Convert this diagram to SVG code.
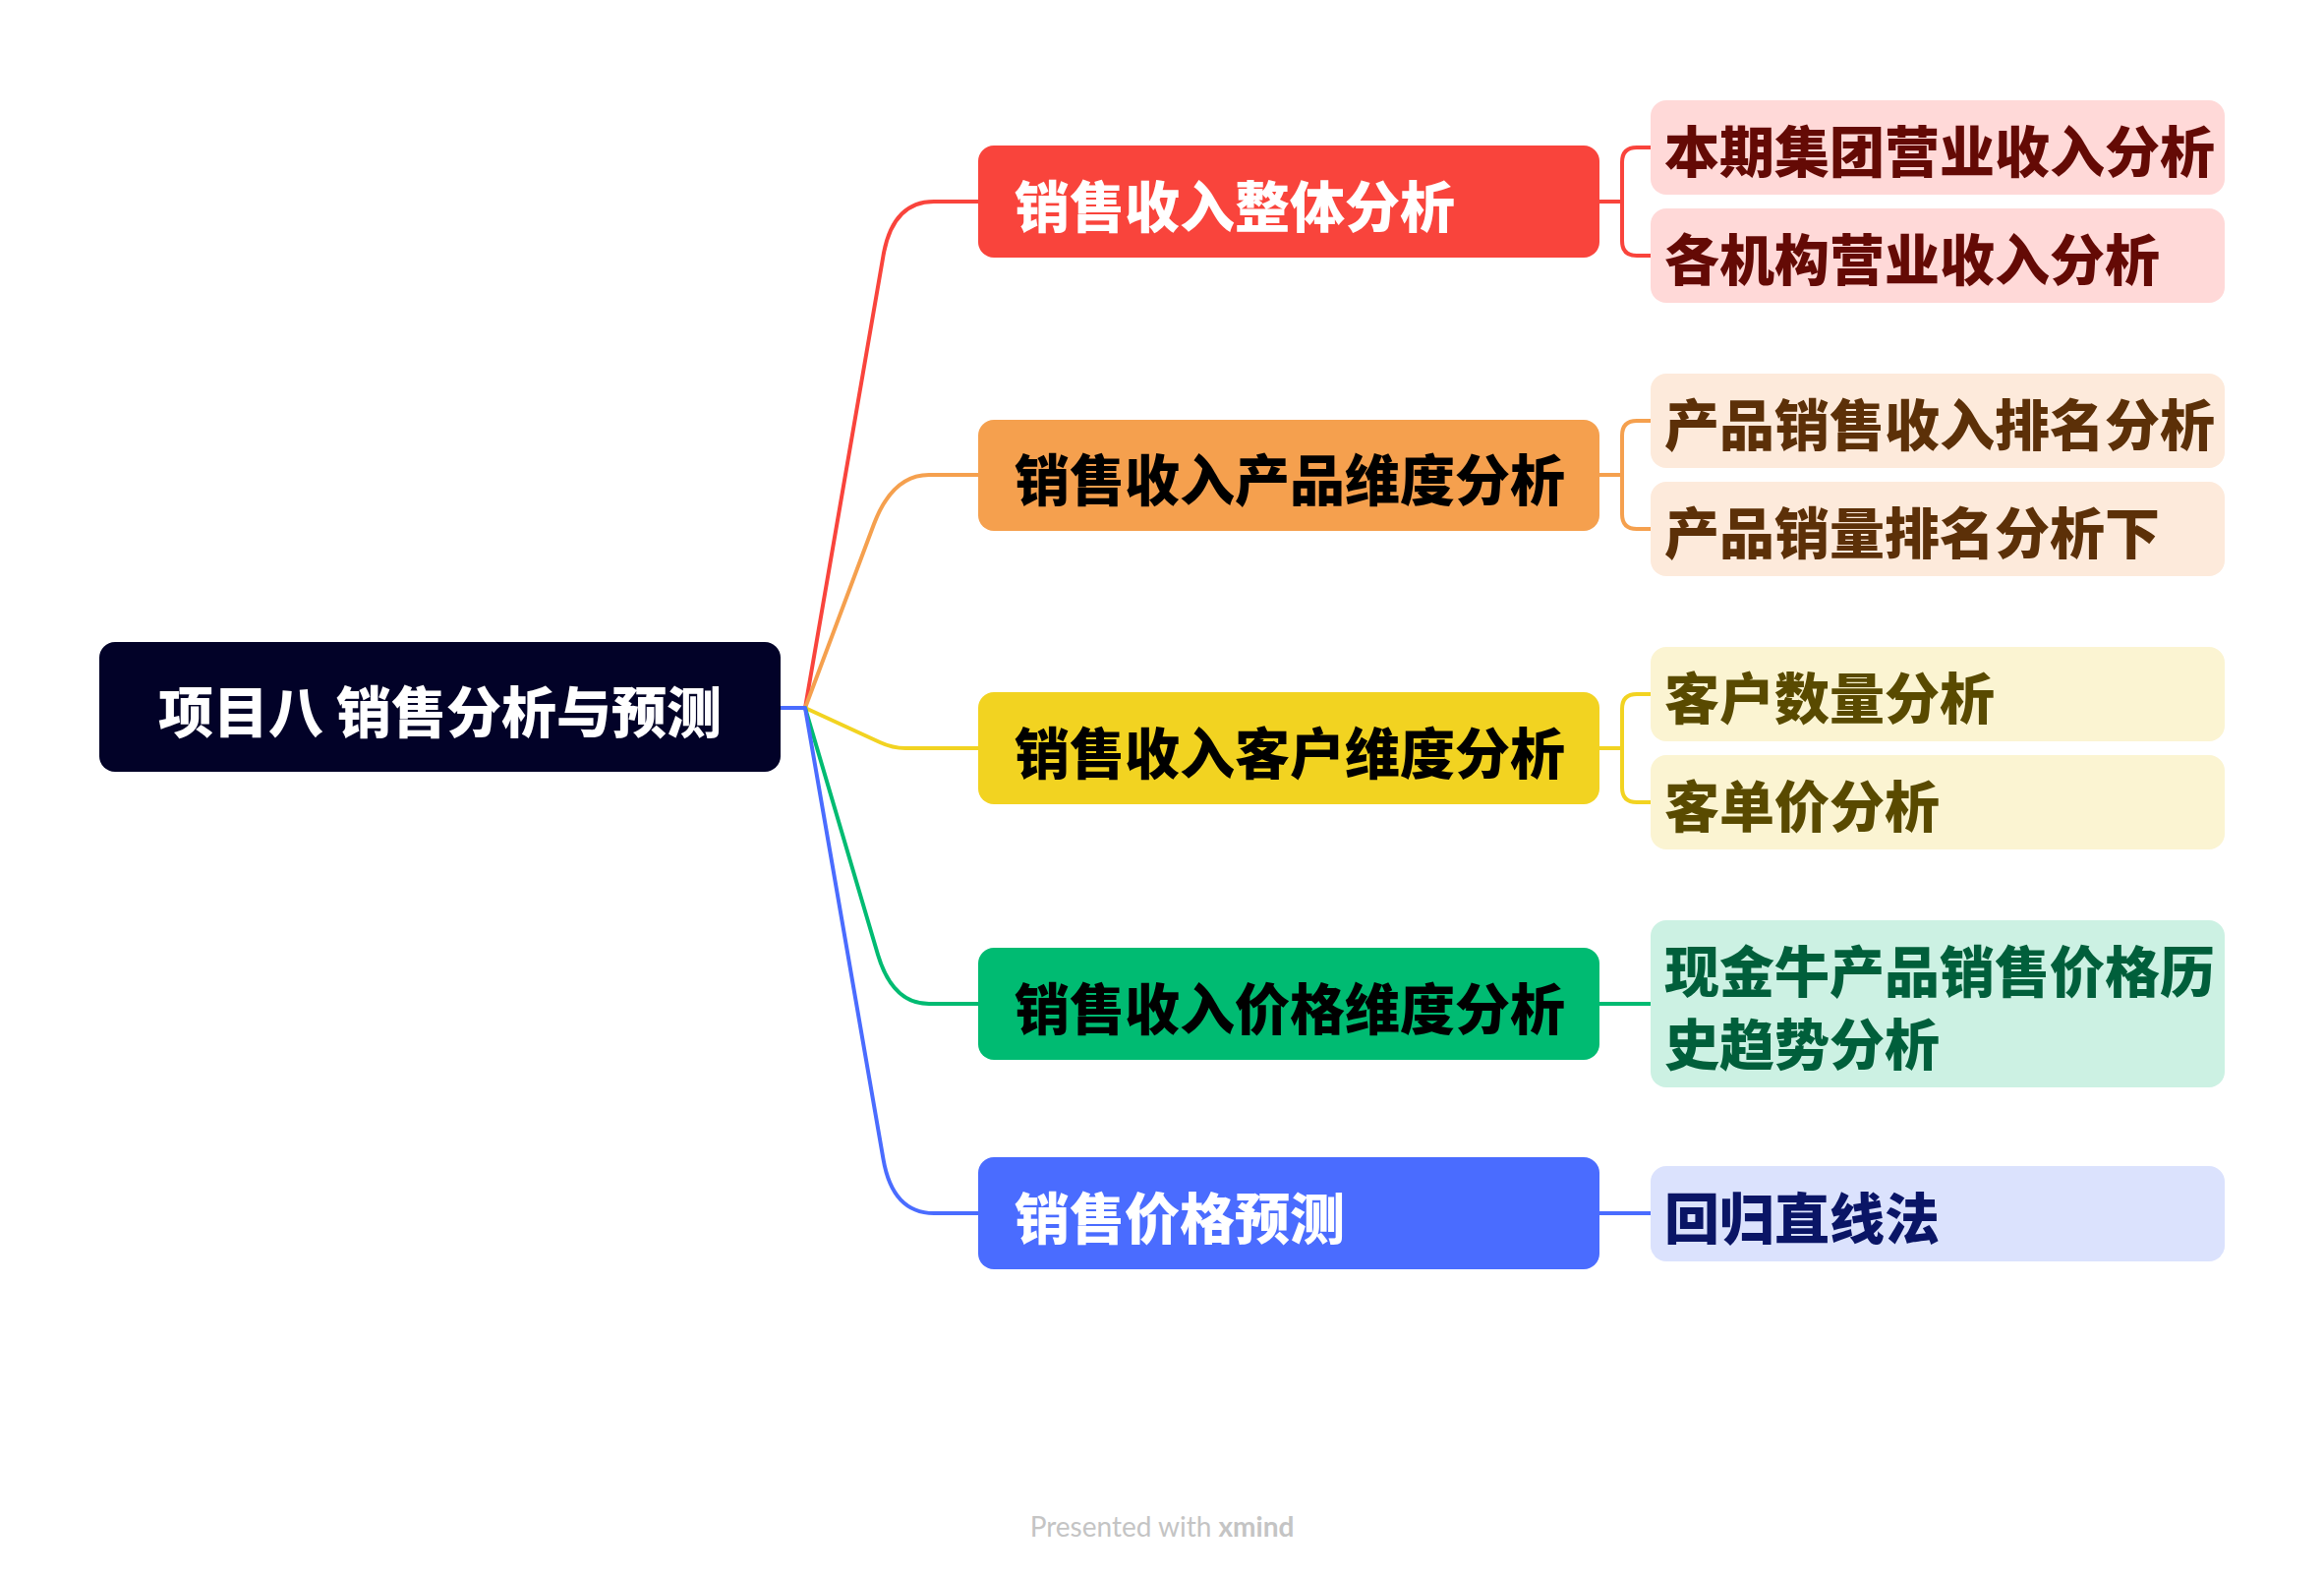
<svg xmlns="http://www.w3.org/2000/svg" width="2364" height="1604" viewBox="0 0 2364 1604">
<style>
text{font-family:"Noto Sans CJK SC","Noto Sans",sans-serif;font-weight:900;font-size:56px;dominant-baseline:central}
.c{fill:none;stroke-width:4;stroke-linecap:round;stroke-linejoin:round}
.wm{font-family:"Lato","Open Sans",sans-serif;font-size:28px;font-weight:400;fill:#c4c4c4;dominant-baseline:auto}
</style>
<rect width="2364" height="1604" fill="#ffffff"/>
<g id="connectors">
<path class="c" stroke="#F9443C" d="M794,720 L819,720 L898.5,260 Q908,205 950,205 L995,205"/>
<path class="c" stroke="#F5A04E" d="M794,720 L819,720 L889,533 Q908,483 945,483 L995,483"/>
<path class="c" stroke="#F2D321" d="M794,720 L819,720 L895,755 Q908,761 921,761 L995,761"/>
<path class="c" stroke="#00BB72" d="M794,720 L819,720 L893,971 Q908,1021 945,1021 L995,1021"/>
<path class="c" stroke="#4A6CFF" d="M794,720 L819,720 L898.5,1179 Q908,1234 950,1234 L995,1234"/>
<path class="c" stroke="#F9443C" d="M1627,205 L1650,205 M1679,150 L1665,150 Q1650,150 1650,165 L1650,245 Q1650,260 1665,260 L1679,260"/>
<path class="c" stroke="#F5A04E" d="M1627,483 L1650,483 M1679,428 L1665,428 Q1650,428 1650,443 L1650,523 Q1650,538 1665,538 L1679,538"/>
<path class="c" stroke="#F2D321" d="M1627,761 L1650,761 M1679,706 L1665,706 Q1650,706 1650,721 L1650,801 Q1650,816 1665,816 L1679,816"/>
<path class="c" stroke="#00BB72" d="M1627,1021 L1679,1021"/>
<path class="c" stroke="#4A6CFF" d="M1627,1234 L1679,1234"/>
</g>
<g id="root">
<rect x="101" y="653" width="693" height="132" rx="16" fill="#020228"/>
<text x="447.5" y="720" text-anchor="middle" fill="#ffffff">项目八 销售分析与预测</text>
</g>
<g id="n1">
<rect x="995" y="148" width="632" height="114" rx="16" fill="#F9443C"/>
<text x="1032" y="206" fill="#ffffff">销售收入整体分析</text>
</g>
<g id="n1a">
<rect x="1679" y="102" width="584" height="96" rx="16" fill="#FFD9D8"/>
<text x="1693" y="150" fill="#640A05">本期集团营业收入分析</text>
</g>
<g id="n1b">
<rect x="1679" y="212" width="584" height="96" rx="16" fill="#FFD9D8"/>
<text x="1693" y="260" fill="#640A05">各机构营业收入分析</text>
</g>
<g id="n2">
<rect x="995" y="427" width="632" height="113" rx="16" fill="#F5A04E"/>
<text x="1032" y="484" fill="#000000">销售收入产品维度分析</text>
</g>
<g id="n2a">
<rect x="1679" y="380" width="584" height="96" rx="16" fill="#FDEADB"/>
<text x="1693" y="428" fill="#5C3008">产品销售收入排名分析</text>
</g>
<g id="n2b">
<rect x="1679" y="490" width="584" height="96" rx="16" fill="#FDEADB"/>
<text x="1693" y="538" fill="#5C3008">产品销量排名分析下</text>
</g>
<g id="n3">
<rect x="995" y="704" width="632" height="114" rx="16" fill="#F2D321"/>
<text x="1032" y="762" fill="#000000">销售收入客户维度分析</text>
</g>
<g id="n3a">
<rect x="1679" y="658" width="584" height="96" rx="16" fill="#FBF4D2"/>
<text x="1693" y="706" fill="#594A00">客户数量分析</text>
</g>
<g id="n3b">
<rect x="1679" y="768" width="584" height="96" rx="16" fill="#FBF4D2"/>
<text x="1693" y="816" fill="#594A00">客单价分析</text>
</g>
<g id="n4">
<rect x="995" y="964" width="632" height="114" rx="16" fill="#00BB72"/>
<text x="1032" y="1022" fill="#000000">销售收入价格维度分析</text>
</g>
<g id="n4a">
<rect x="1679" y="936" width="584" height="170" rx="16" fill="#CCF1E3"/>
<text x="1693" y="984" fill="#005F3B">现金牛产品销售价格历</text>
<text x="1693" y="1058" fill="#005F3B">史趋势分析</text>
</g>
<g id="n5">
<rect x="995" y="1177" width="632" height="114" rx="16" fill="#4A6CFF"/>
<text x="1032" y="1235" fill="#ffffff">销售价格预测</text>
</g>
<g id="n5a">
<rect x="1679" y="1186" width="584" height="97" rx="16" fill="#DBE2FD"/>
<text x="1693" y="1235" fill="#0A1566">回归直线法</text>
</g>
<text class="wm" x="1182" y="1563" text-anchor="middle">Presented with <tspan font-weight="700">xmind</tspan></text>
</svg>
